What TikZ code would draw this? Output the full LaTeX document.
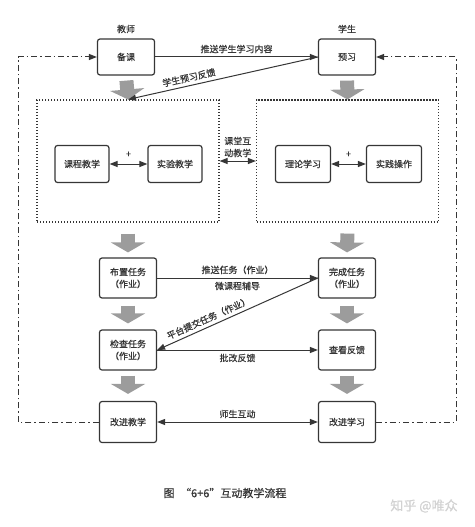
\documentclass[tikz,border=0pt]{standalone}
\usepackage{fontspec}
\setmainfont{Noto Sans CJK SC}[FakeBold=0.6]
\usetikzlibrary{arrows.meta}
\definecolor{boxline}{HTML}{363636}
\definecolor{fatgray}{HTML}{9C9C9C}
\tikzset{
  stage/.style={draw=boxline, line width=1.2pt, rounded corners=2.5pt, fill=white, align=center,
    minimum width=57pt, minimum height=40pt, font=\fontsize{9}{12}\selectfont, text=boxline},
  zone/.style={draw=boxline, line width=1.1pt, dash pattern=on 1.2pt off 1.8pt,
    minimum width=182pt, minimum height=122pt},
  arr/.style={draw=boxline, line width=1pt, -{Triangle[length=8pt,width=6pt]}},
  darr/.style={arr, {Triangle[length=8pt,width=6pt]}-{Triangle[length=8pt,width=6pt]}},
  fat/.style={draw=fatgray, line width=14pt, -{Triangle[length=10pt,width=34pt]}},
  loopline/.style={draw=boxline, line width=1pt, dash pattern=on 6pt off 3pt on 1.5pt off 3pt},
  lbl/.style={font=\fontsize{9}{12}\selectfont, text=boxline, align=center}
}

\begin{document}
\begin{tikzpicture}[x=1pt, y=-1pt]
	\useasboundingbox (0,0) rectangle (474,527);
	% teacher and student
	\node[stage, minimum height=36pt] (beike) at (126,57) {备课};
	\node[stage, minimum height=36pt] (yuxi) at (347,57) {预习};
	\node[lbl] (jiaoshi) at (126,29) {教师};
	\node[lbl] (xuesheng) at (347,29) {学生};
	% classroom zones
	\node[zone] (tzone) at (128,161) {};
	\node[zone] (szone) at (347.5,161) {};
	\node[stage, minimum width=54pt, minimum height=37pt] (kecheng) at (82,164) {课程教学};
	\node[stage, minimum width=54pt, minimum height=37pt] (shiyan) at (175,164) {实验教学};
	\node[stage, minimum width=55pt, minimum height=37pt] (lilun) at (303,164) {理论学习};
	\node[stage, minimum width=55pt, minimum height=37pt] (shijian) at (394,164) {实践操作};
	% tasks
	\node[stage] (buzhi) at (128,278) {布置任务\\（作业）};
	\node[stage] (wancheng) at (347,278) {完成任务\\（作业）};
	\node[stage] (jiancha) at (128,350) {检查任务\\（作业）};
	\node[stage] (chakan) at (347,350) {查看反馈};
	\node[stage, minimum height=41pt] (gaijiao) at (128,422) {改进教学};
	\node[stage, minimum height=41pt] (gaixue) at (347,422) {改进学习};
	% outer loop
	\coordinate (lb) at (18,422);
	\coordinate (rb) at (456,422);
	\draw[loopline, -{Triangle[length=8pt,width=6pt]}] (gaijiao.west) -- (lb) |- (beike.west);
	\draw[loopline, -{Triangle[length=8pt,width=6pt]}] (gaixue.east) -- (rb) |- (yuxi.east);
	% flow arrows
	\foreach \a/\b in {beike/tzone, yuxi/szone}
	  \draw[fat, shorten <=5pt] (\a.south) -- (\b.north);
	\foreach \a/\b in {tzone/buzhi, szone/wancheng}
	  \draw[fat, shorten <=11pt, shorten >=5pt] (\a.south) -- (\b.north);
	\foreach \a/\b in {buzhi/jiancha, wancheng/chakan}
	  \draw[fat, shorten <=7pt, shorten >=6pt] (\a.south) -- (\b.north);
	\foreach \a/\b in {jiancha/gaijiao, chakan/gaixue}
	  \draw[fat, shorten <=5pt, shorten >=7pt] (\a.south) -- (\b.north);
	% exchanges
	\draw[arr] (beike) -- (yuxi) node[lbl, midway, above] {推送学生学习内容};
	\draw[arr, {Triangle[length=8pt,width=6pt]}-] (tzone.north) -- (yuxi.west)
	  node[lbl, pos=0.33, sloped, above] {学生预习反馈};
	\draw[darr] (kecheng) -- (shiyan) node[lbl, midway, above=3pt] {+};
	\draw[darr] (lilun) -- (shijian) node[lbl, midway, above=3pt] {+};
	\draw[darr] (tzone.east) -- (szone.west) node[lbl, midway, above] {课堂互\\动教学};
	\draw[arr] (buzhi) -- (wancheng) node[lbl, midway, above] {推送任务（作业）}
	  node[lbl, midway, below] {微课程辅导};
	\draw[arr, {Triangle[length=8pt,width=6pt]}-] (jiancha.east) -- (wancheng.west)
	  node[lbl, pos=0.34, sloped, above] {平台提交任务（作业）};
	\draw[arr] (jiancha) -- (chakan) node[lbl, midway, below] {批改反馈};
	\draw[darr] (gaijiao) -- (gaixue) node[lbl, midway, above] {师生互动};
	% caption
	\node[font=\fontsize{11}{13}\selectfont, text=boxline] (caption) at (225,493) {图\enspace “6+6”互动教学流程};
	\node[font=\fontsize{13}{15}\selectfont, text=gray!35] (mark) at (424,506) {知乎 @唯众};
\end{tikzpicture}
\end{document}
